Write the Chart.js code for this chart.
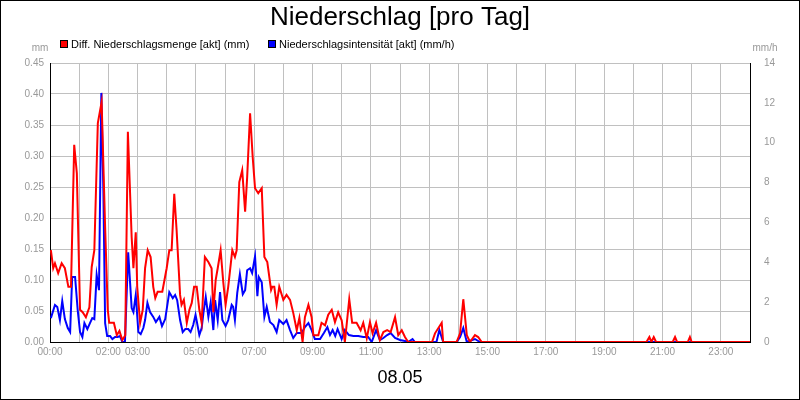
<!DOCTYPE html>
<html>
<head>
<meta charset="utf-8">
<script src="https://cdn.jsdelivr.net/npm/chart.js@4/dist/chart.umd.min.js"></script>
<style>
  body { margin: 0; background: #fff; }
  #wrap { width: 800px; height: 400px; }
</style>
</head>
<body>
<div id="wrap"><canvas id="c"></canvas></div>
<script>
// Diff. Niederschlagsmenge (mm), time in hours
const redTimes = [0.03,0.11,0.17,0.28,0.40,0.51,0.63,0.72,0.83,0.92,1.03,1.12,1.23,1.35,1.43,1.52,1.64,1.77,1.89,1.98,2.03,2.19,2.29,2.38,2.48,2.58,2.67,2.80,2.86,2.94,2.99,3.09,3.18,3.26,3.35,3.45,3.54,3.61,3.69,3.85,4.00,4.09,4.17,4.26,4.34,4.46,4.51,4.59,4.69,4.78,4.86,4.94,5.03,5.12,5.20,5.31,5.43,5.54,5.60,5.68,5.75,5.85,5.94,6.02,6.11,6.25,6.34,6.40,6.49,6.59,6.69,6.76,6.86,6.95,7.03,7.14,7.26,7.35,7.45,7.58,7.62,7.69,7.77,7.86,8.00,8.11,8.23,8.34,8.46,8.55,8.66,8.74,8.86,8.97,9.03,9.20,9.31,9.43,9.54,9.66,9.77,9.88,10.00,10.11,10.26,10.36,10.51,10.65,10.74,10.86,10.97,11.06,11.18,11.31,11.43,11.56,11.68,11.83,11.94,12.06,12.17,12.28,13.10,13.20,13.43,13.48,13.94,14.06,14.17,14.29,14.40,14.57,14.68,14.80,20.45,20.55,20.62,20.70,20.78,21.35,21.43,21.50,21.87,21.94,22.00,24.00];
const redValues = [0.148,0.119,0.127,0.111,0.127,0.119,0.089,0.089,0.318,0.272,0.052,0.048,0.040,0.056,0.121,0.148,0.353,0.387,0.185,0.052,0.031,0.031,0.011,0.018,0.003,0.011,0.339,0.169,0.119,0.177,0.089,0.031,0.052,0.119,0.148,0.137,0.089,0.071,0.081,0.081,0.119,0.148,0.148,0.239,0.181,0.076,0.060,0.068,0.031,0.052,0.063,0.089,0.089,0.052,0.031,0.137,0.129,0.119,0.048,0.100,0.119,0.148,0.097,0.060,0.089,0.148,0.137,0.148,0.258,0.277,0.210,0.266,0.369,0.298,0.248,0.240,0.248,0.137,0.129,0.084,0.089,0.089,0.060,0.089,0.068,0.076,0.068,0.047,0.019,0.039,0,0.040,0.060,0.040,0.011,0.011,0.031,0.027,0.044,0.052,0.032,0.048,0.035,0,0.069,0.031,0.031,0.019,0.031,0.006,0.032,0.014,0.031,0.003,0.016,0.019,0.016,0.040,0.011,0.019,0.008,0,0,0.014,0.031,0,0,0.014,0.069,0.011,0,0.011,0.008,0,0,0.008,0,0.008,0,0,0.008,0,0,0.008,0,0];

// Niederschlagsintensitaet (mm/h)
const blueTimes = [0.03,0.17,0.25,0.34,0.42,0.51,0.61,0.69,0.76,0.86,0.95,1.03,1.11,1.18,1.28,1.37,1.45,1.52,1.60,1.68,1.76,1.83,1.89,1.96,2.06,2.14,2.23,2.32,2.40,2.48,2.57,2.68,2.80,2.86,2.94,3.03,3.11,3.20,3.26,3.34,3.43,3.54,3.63,3.75,3.84,3.95,4.09,4.21,4.29,4.36,4.46,4.55,4.64,4.74,4.82,4.91,4.99,5.12,5.20,5.26,5.34,5.43,5.51,5.60,5.66,5.75,5.83,5.91,6.02,6.11,6.23,6.28,6.34,6.42,6.51,6.61,6.69,6.76,6.86,6.93,7.03,7.11,7.16,7.26,7.35,7.43,7.54,7.66,7.77,7.86,8.00,8.11,8.23,8.34,8.46,8.63,8.74,8.86,8.97,9.08,9.26,9.39,9.51,9.60,9.69,9.78,9.86,10.00,10.11,10.25,10.40,10.57,10.74,10.91,11.03,11.18,11.31,11.43,11.56,11.68,11.83,12.00,12.17,12.28,12.43,12.51,13.25,13.35,13.48,13.94,14.06,14.17,14.29,14.57,14.74,24.00];
const blueValues = [1.2,1.86,1.76,1.1,2.06,1.15,0.7,0.5,3.26,3.26,1.6,0.5,0.25,0.95,0.65,0.95,1.2,1.15,3.36,2.6,12.5,7.6,0.95,0.3,0.3,0.15,0.25,0.25,0.3,0,0,4.5,1.7,1.5,2.36,0.5,0.4,0.7,1.1,1.96,1.5,1.26,1.0,1.26,0.8,1.15,2.5,2.2,2.36,2.1,1.1,0.5,0.65,0.65,0.5,0.85,1.36,0.35,0.7,1.45,2.26,1.26,2.0,0.6,2.1,1.1,2.5,1.1,0.8,1.1,1.86,1.76,1.1,2.46,3.4,2.4,2.6,3.6,3.7,3.46,4.3,2.3,3.26,3.0,1.26,1.76,1.0,0.85,0.5,1.1,0.9,1.1,0.6,0.2,0.45,0.45,0.75,0.95,0.6,0.15,0.15,0.45,0.75,0.35,0.6,0.3,0.65,0.15,0.6,0.35,0.3,0.3,0.25,0.25,0,0.6,0.1,0.2,0.35,0.45,0.2,0.1,0.05,0,0.15,0,0,0.6,0,0,0.25,0.7,0,0.15,0,0];

const tickHours = [0,2,3,5,7,9,11,13,15,17,19,21,23];
const leftTicks = [0,0.05,0.1,0.15,0.2,0.25,0.3,0.35,0.4,0.45];
const rightTicks = [0,2,4,6,8,10,12,14];

const seriesNames = ["Diff. Niederschlagsmenge [akt] (mm)", "Niederschlagsintensität [akt] (mm/h)"];
const dayLabel = "08.05";

function pts(t, v) { return t.map((x, i) => ({ x: x, y: v[i] })); }
function hh(h) { return String(h).padStart(2, "0") + ":00"; }

const decor = {
  id: "decor",
  afterDraw(chart) {
    const ctx = chart.ctx;
    ctx.save();
    ctx.strokeStyle = "#000";
    ctx.lineWidth = 1;
    ctx.strokeRect(0.5, 0.5, 799, 399);
    ctx.fillStyle = "#000";
    ctx.font = "26px 'Liberation Sans', Arial, sans-serif";
    ctx.textAlign = "center";
    ctx.textBaseline = "middle";
    ctx.fillText("Niederschlag [pro Tag]", 400, 18);
    ctx.font = "18px 'Liberation Sans', Arial, sans-serif";
    ctx.fillText(dayLabel, 400, 378);
    ctx.font = "10px 'Liberation Sans', Arial, sans-serif";
    ctx.fillStyle = "#999";
    ctx.fillText("mm", 40, 48);
    ctx.fillText("mm/h", 765, 48);
    // legend
    ctx.textAlign = "left";
    ctx.fillStyle = "#000";
    ctx.font = "11px 'Liberation Sans', Arial, sans-serif";
    const items = [[60, "#ff0000", seriesNames[0]], [268, "#0000ff", seriesNames[1]]];
    items.forEach(([x, c, s]) => {
      ctx.fillStyle = c; ctx.fillRect(x, 40, 8, 8);
      ctx.strokeStyle = "#000"; ctx.strokeRect(x + 0.5, 40.5, 7, 7);
      ctx.fillStyle = "#000"; ctx.fillText(s, x + 11, 45);
    });
    // right axis line
    const a = chart.chartArea;
    ctx.beginPath();
    ctx.moveTo(a.right + 0.5, a.top); ctx.lineTo(a.right + 0.5, a.bottom);
    ctx.stroke();
    ctx.restore();
  }
};

new Chart(document.getElementById("c"), {
  type: "line",
  data: {
    datasets: [
      { label: seriesNames[0], data: pts(redTimes, redValues), borderColor: "#ff0000", borderWidth: 2, pointRadius: 0, yAxisID: "y", tension: 0 },
      { label: seriesNames[1], data: pts(blueTimes, blueValues), borderColor: "#0000ff", borderWidth: 2, pointRadius: 0, yAxisID: "y1", tension: 0 }
    ]
  },
  options: {
    responsive: true,
    maintainAspectRatio: false,
    animation: false,
    layout: { padding: { top: 63, left: 0, right: 0, bottom: 0 } },
    plugins: { legend: { display: false }, tooltip: { enabled: false } },
    scales: {
      x: {
        type: "linear", min: 0, max: 24,
        afterBuildTicks: s => { s.ticks = Array.from({ length: 25 }, (_, i) => ({ value: i })); },
        afterFit: s => { s.height = 58; },
        grid: { color: "#c0c0c0", drawTicks: false },
        border: { color: "#000" },
        ticks: {
          color: "#999", font: { size: 10, family: "'Liberation Sans', Arial" }, maxRotation: 0, autoSkip: false, padding: 4,
          callback: v => tickHours.includes(v) ? hh(v) : ""
        }
      },
      y: {
        position: "left", min: 0, max: 0.45,
        afterBuildTicks: s => { s.ticks = leftTicks.map(v => ({ value: v })); },
        afterFit: s => { s.width = 50; },
        grid: { color: "#c0c0c0", drawTicks: false },
        border: { color: "#000" },
        ticks: { color: "#999", font: { size: 10, family: "'Liberation Sans', Arial" }, padding: 6, callback: v => v.toFixed(2) }
      },
      y1: {
        position: "right", min: 0, max: 14,
        afterBuildTicks: s => { s.ticks = rightTicks.map(v => ({ value: v })); },
        afterFit: s => { s.width = 50; },
        grid: { display: false },
        border: { color: "#000" },
        ticks: { color: "#999", font: { size: 10, family: "'Liberation Sans', Arial" }, padding: 6 }
      }
    }
  },
  plugins: [decor]
});
</script>
</body>
</html>
